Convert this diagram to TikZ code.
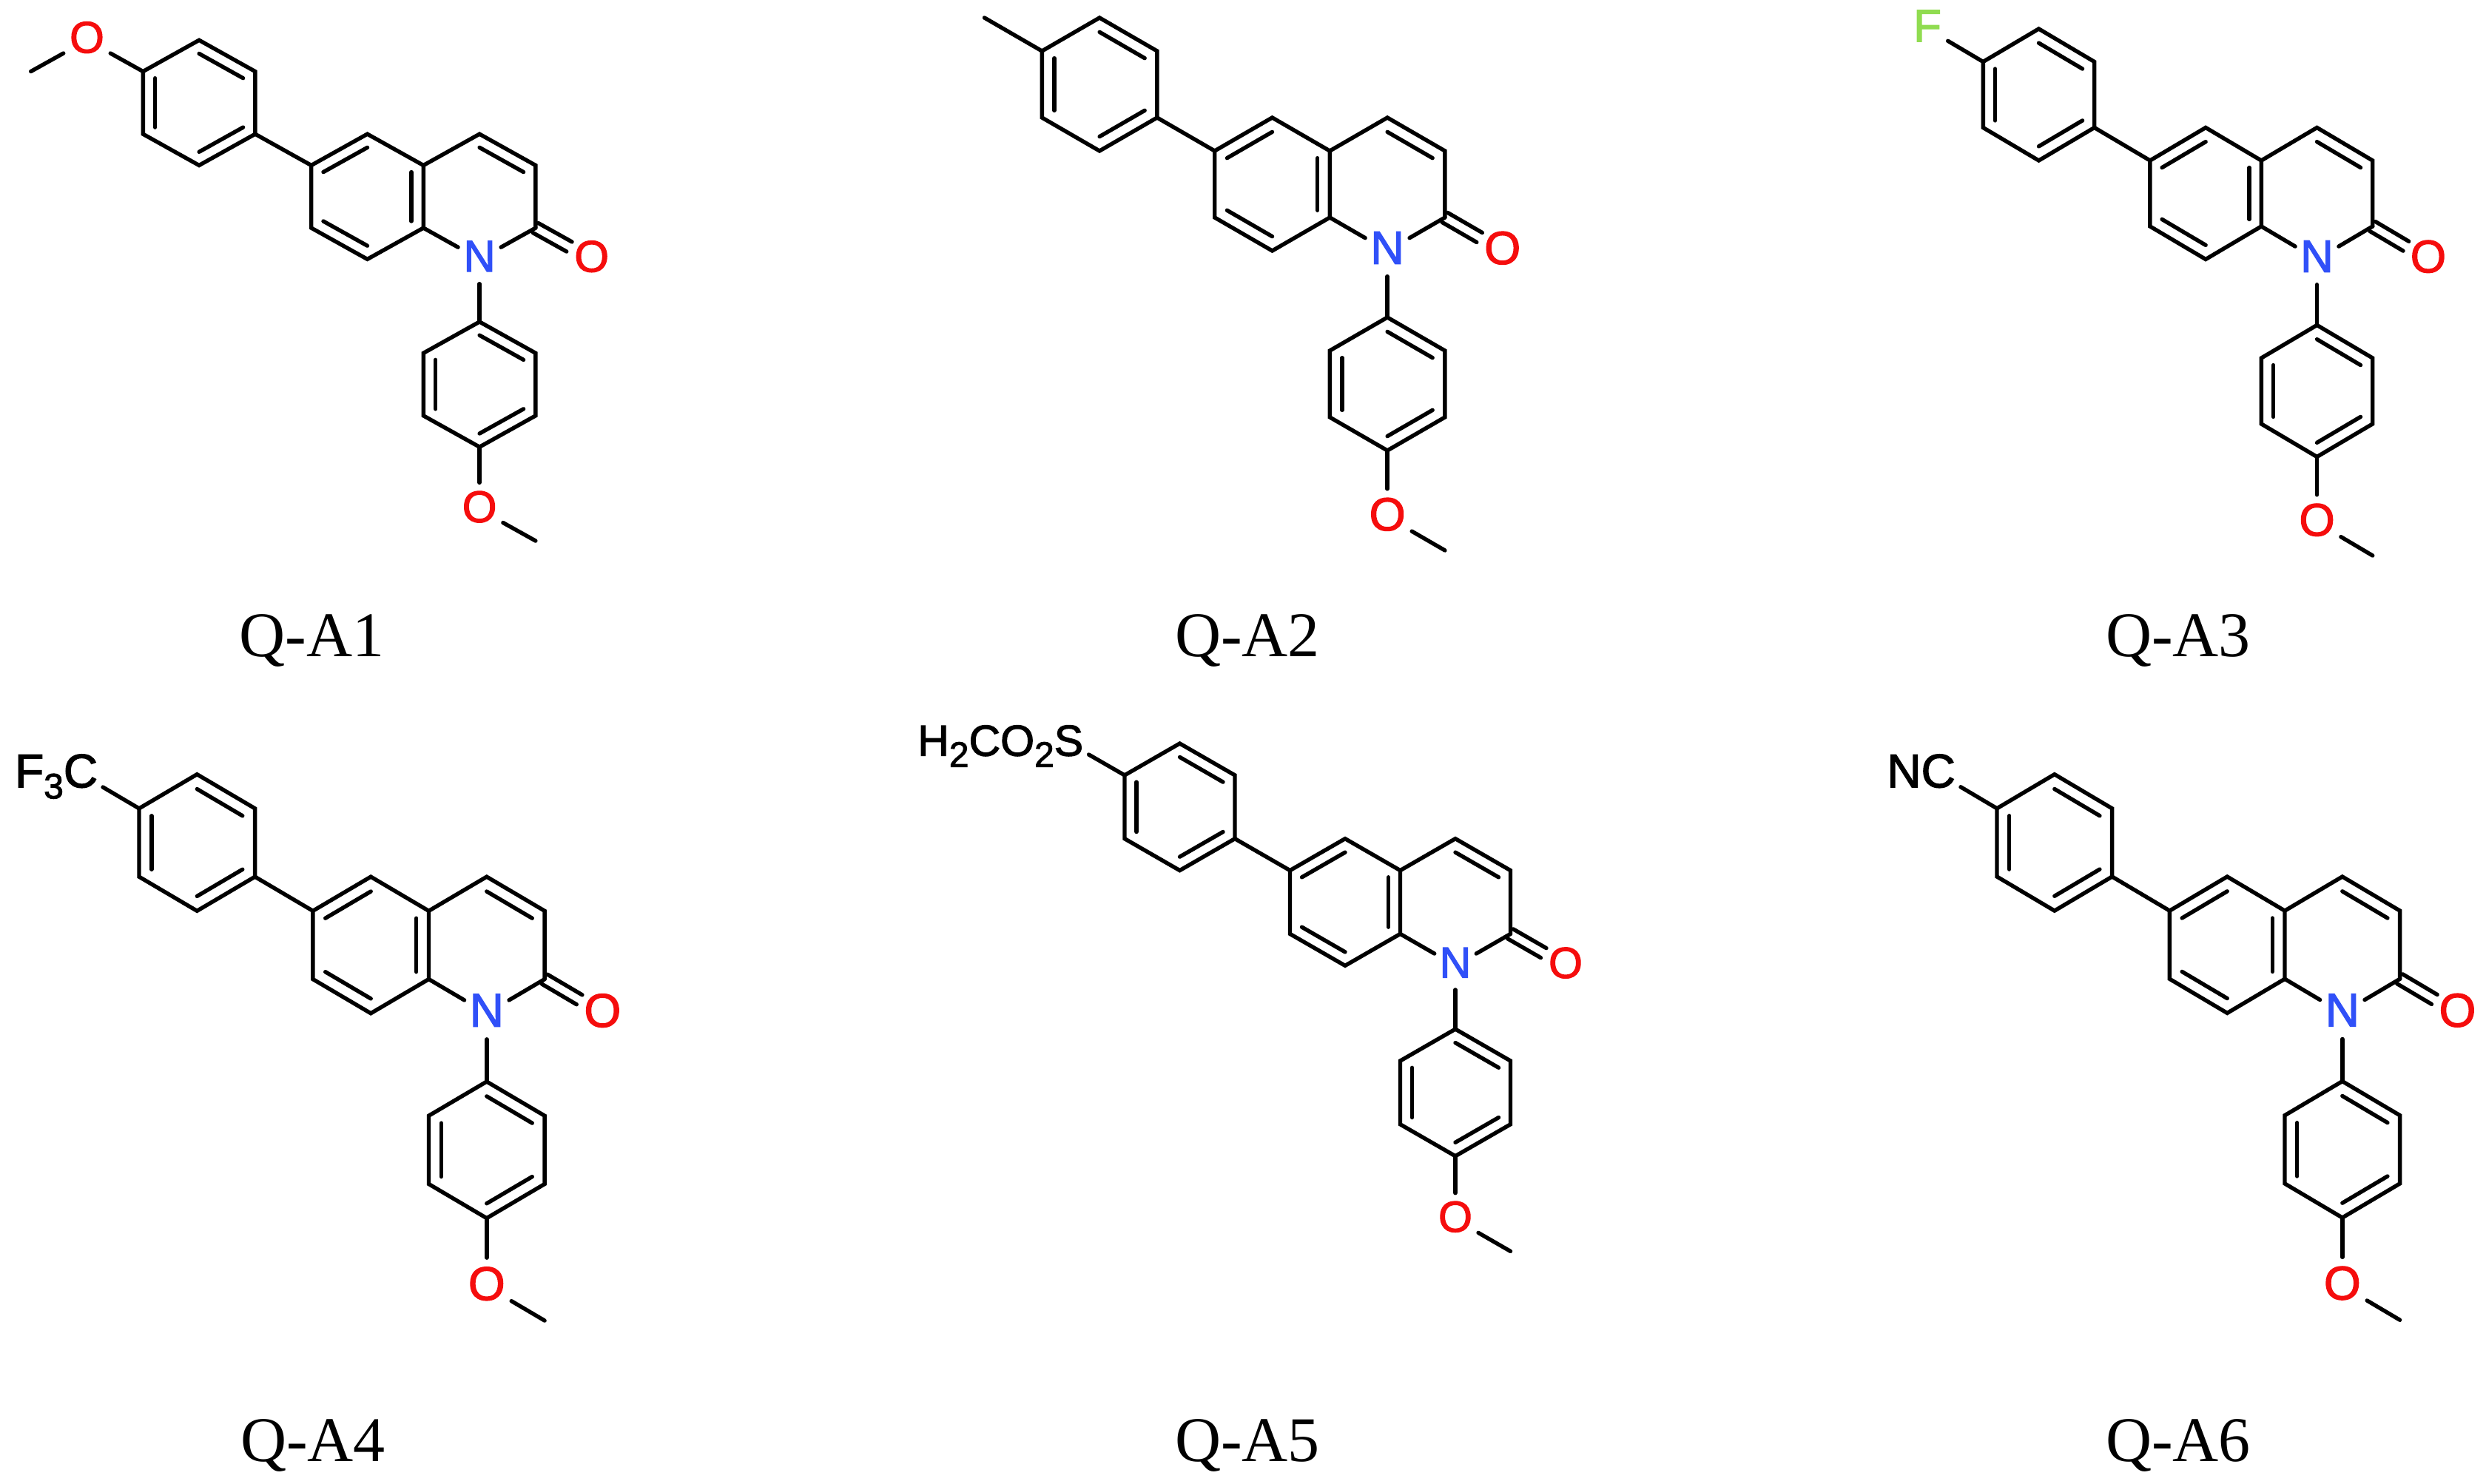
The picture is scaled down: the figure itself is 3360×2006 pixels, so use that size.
\documentclass[tikz,border=0pt]{standalone}
\usepackage{fontspec}
\setmainfont{Liberation Serif}
\setsansfont[FakeBold=2]{Liberation Sans}
\usetikzlibrary{calc}
\definecolor{oxygen}{HTML}{F50D0D}
\definecolor{nitrogen}{HTML}{3050F8}
\definecolor{fluorine}{HTML}{90DC50}
\tikzset{bond/.style = {line width=2.7pt,line cap=round,line join=miter}}
\tikzset{atom/.style = {circle,inner sep=0pt,minimum size=#1*1.2pt,text depth=4pt,font=\sffamily\fontsize{#1}{#1}\selectfont}}
\tikzset{group/.style = {inner sep=0pt,anchor=base east,font=\sffamily\fontsize{#1}{#1}\selectfont}}
\tikzset{molname/.style = {inner sep=0pt,anchor=base,font=\fontsize{43}{43}\selectfont}}
\newcommand{\innerbond}[3]{\draw[bond] ($(#1)!0.785!(#2)$) -- ($(#1)!0.785!(#3)$);}
\newcommand{\atomsub}[1]{\raisebox{-7.5pt}{\fontsize{24}{24}\selectfont #1}}
% name, left of first ring, top of first ring, half ring width, half bond height, font size
\newcommand{\quinolone}[6]{
    \begin{scope}[shift={(#2,#3)},x={#4*0.5pt},y={-#5*0.5pt}]
        \coordinate (#1r) at (-1,0);
        \coordinate (#1m) at (-2,1);
        \coordinate (#1a0) at (1,2);
        \coordinate (#1a1) at (0,1);
        \coordinate (#1a2) at (1,0);
        \coordinate (#1a3) at (2,1);
        \coordinate (#1a4) at (2,3);
        \coordinate (#1a5) at (1,4);
        \coordinate (#1a6) at (0,3);
        \coordinate (#1b0) at (4,5);
        \coordinate (#1b1) at (3,4);
        \coordinate (#1b2) at (4,3);
        \coordinate (#1b3) at (5,4);
        \coordinate (#1b4) at (5,6);
        \coordinate (#1b5) at (4,7);
        \coordinate (#1b6) at (3,6);
        \coordinate (#1c0) at (6,5);
        \coordinate (#1c1) at (6,3);
        \coordinate (#1c2) at (7,4);
        \coordinate (#1c3) at (7,6);
        \coordinate (#1c4) at (6,7);
        \coordinate (#1d0) at (6,11);
        \coordinate (#1d1) at (6,9);
        \coordinate (#1d2) at (7,10);
        \coordinate (#1d3) at (7,12);
        \coordinate (#1d4) at (6,13);
        \coordinate (#1d5) at (5,12);
        \coordinate (#1d6) at (5,10);
        \coordinate (#1e) at (7,16);
        \node[atom=#6,minimum size=#6*1.07pt,text=nitrogen] (#1N) at (6,7) {N};
        \node[atom=#6,text=oxygen] (#1O) at (8,7) {O};
        \node[atom=#6,text=oxygen] (#1P) at (6,15) {O};
        \coordinate (#1k) at ($(#1c3)!0.6!(#1O)$);

        \draw[bond] (#1a1) -- (#1a2) -- (#1a3) -- (#1a4) -- (#1a5) -- (#1a6) -- cycle;
        \draw[bond] (#1a4) -- (#1b1);
        \draw[bond] (#1b1) -- (#1b2) -- (#1b3) -- (#1b4) -- (#1b5) -- (#1b6) -- cycle;
        \draw[bond] (#1b3) -- (#1c1) -- (#1c2) -- (#1c3);
        \draw[bond] (#1b4) -- (#1N);
        \draw[bond] (#1c3) -- (#1N);
        \draw[bond] (#1N) -- (#1d1);
        \draw[bond] (#1d1) -- (#1d2) -- (#1d3) -- (#1d4) -- (#1d5) -- (#1d6) -- cycle;
        \draw[bond] (#1d4) -- (#1P);
        \draw[bond] (#1P) -- (#1e);
        \draw[bond] ($(#1c3)!3.75pt!90:(#1O)$) -- ($(#1k)!3.75pt!90:(#1O)$);
        \draw[bond] ($(#1c3)!3.75pt!-90:(#1O)$) -- ($(#1k)!3.75pt!-90:(#1O)$);

        \innerbond{#1a0}{#1a1}{#1a6}
        \innerbond{#1a0}{#1a2}{#1a3}
        \innerbond{#1a0}{#1a4}{#1a5}
        \innerbond{#1b0}{#1b1}{#1b2}
        \innerbond{#1b0}{#1b3}{#1b4}
        \innerbond{#1b0}{#1b5}{#1b6}
        \innerbond{#1c0}{#1c1}{#1c2}
        \innerbond{#1d0}{#1d1}{#1d2}
        \innerbond{#1d0}{#1d3}{#1d4}
        \innerbond{#1d0}{#1d5}{#1d6}
    \end{scope}
}
\begin{document}
\begin{tikzpicture}[x=0.5pt,y=-0.5pt]
    \useasboundingbox (0,0) rectangle (3360,2006);

    \quinolone{qa}{193.3}{54.3}{75.8}{42.3}{30}
    \quinolone{qb}{1408.3}{24}{77.8}{45}{31.5}
    \quinolone{qc}{2680.3}{39}{75.2}{44.5}{31}
    \quinolone{qd}{188}{1046.7}{78.3}{46.15}{32}
    \quinolone{qe}{1520}{1005}{74.5}{42.9}{29.5}
    \quinolone{qf}{2699}{1046.7}{77.8}{46.1}{32}

    \node[atom=30,text=oxygen] (qaX) at (qar) {O};
    \draw[bond] (qaX) -- (qaa1);
    \draw[bond] (qaX) -- (qam);

    \draw[bond] (qbr) -- (qba1);

    \node[atom=31,minimum size=29.5pt,text=fluorine] (qcX) at (qcr) {F};
    \draw[bond] (qcX) -- (qca1);

    \node[group=32,xshift=11.4pt,yshift=-8.8pt] (qdX) at (qdr) {F\atomsub{3}C};
    \coordinate (qdb) at ($(qda1)!0.625!(qdr)$);
    \draw[bond] (qdb) -- (qda1);

    \node[group=29.5,xshift=9.5pt,yshift=-8.3pt] (qeX) at (qer) {H\atomsub{2}CO\atomsub{2}S};
    \coordinate (qeb) at ($(qea1)!0.65!(qer)$);
    \draw[bond] (qeb) -- (qea1);

    \node[group=32,xshift=11pt,yshift=-8.8pt] (qfX) at (qfr) {NC};
    \coordinate (qfb) at ($(qfa1)!0.63!(qfr)$);
    \draw[bond] (qfb) -- (qfa1);

    \node[molname] (qaname) at (421.5,887) {Q-A1};
    \node[molname] (qbname) at (1686,887) {Q-A2};
    \node[molname] (qcname) at (2944,887) {Q-A3};
    \node[molname] (qdname) at (423,1975) {Q-A4};
    \node[molname] (qename) at (1686,1975) {Q-A5};
    \node[molname] (qfname) at (2944,1975) {Q-A6};
\end{tikzpicture}
\end{document}
